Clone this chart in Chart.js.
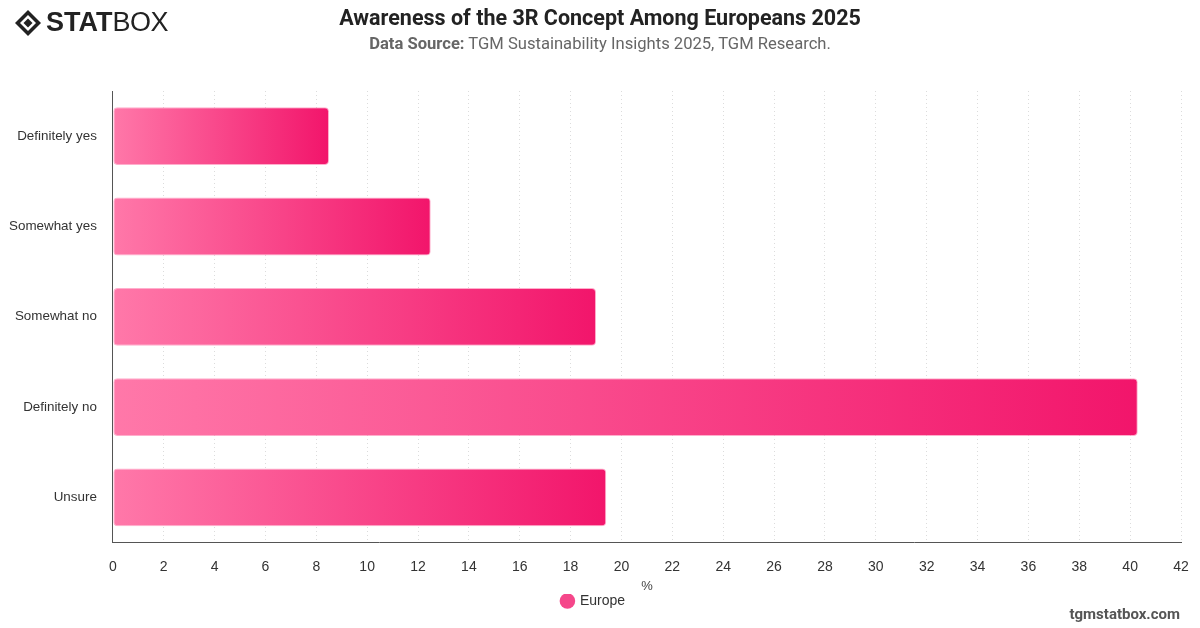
<!DOCTYPE html>
<html>
<head>
<meta charset="utf-8">
<script src="https://cdn.jsdelivr.net/npm/chart.js@4"></script>
<style>
  html, body { margin: 0; padding: 0; background: #fff; }
  body { width: 1200px; height: 628px; position: relative; overflow: hidden; font-family: "Liberation Sans", Arial, sans-serif; }
  #wrap { position: absolute; left: 0; top: 0; width: 1200px; height: 628px; }
  #title { position: absolute; top: 5px; left: 0; width: 1200px; text-align: center; font-family: Roboto, "Liberation Sans", sans-serif; font-weight: bold; font-size: 21.5px; color: #222; }
  #sub { position: absolute; top: 34px; left: 0; width: 1200px; text-align: center; font-family: Roboto, "Liberation Sans", sans-serif; font-size: 16.6px; color: #666; }
  #sub b { font-weight: bold; }
  #logo { position: absolute; left: 14px; top: 7px; display: flex; align-items: center; font-family: "Liberation Sans", Arial, sans-serif; color: #222; }
  #logo .stat { font-weight: 900; font-size: 27px; letter-spacing: 0px; }
  #logo .box { font-weight: normal; font-size: 27px; letter-spacing: -0.5px; }
  #footer { position: absolute; right: 20px; bottom: 5px; font-family: Roboto, "Liberation Sans", sans-serif; font-weight: bold; font-size: 15px; color: #555; }
</style>
</head>
<body>
<div id="wrap"><canvas id="c" width="1200" height="628"></canvas></div>
<div id="logo">
  <svg width="28" height="28" viewBox="0 0 28 28" style="margin-right:4px">
    <polygon points="14,1 27,14 14,27 1,14" fill="#222"/>
    <polygon points="14,6 22,14 14,22 6,14" fill="#fff"/>
    <polygon points="14,9.5 18.5,14 14,18.5 9.5,14" fill="#222"/>
  </svg>
  <span class="stat">STAT</span><span class="box">BOX</span>
</div>
<div id="title">Awareness of the 3R Concept Among Europeans 2025</div>
<div id="sub"><b>Data Source:</b> TGM Sustainability Insights 2025, TGM Research.</div>
<div id="footer">tgmstatbox.com</div>
<script>
const categories = ["Definitely yes", "Somewhat yes", "Somewhat no", "Definitely no", "Unsure"];
const europeValues = [8.5, 12.5, 19.0, 40.3, 19.4];
const seriesName = "Europe";
const axisTitle = "%";

function barGradient(ctx) {
  const chart = ctx.chart;
  if (!chart.chartArea || !chart.scales.x) return "#f5478a";
  const xs = chart.scales.x;
  const x0 = xs.getPixelForValue(0);
  const v = ctx.raw != null ? ctx.raw : 1;
  const x1 = xs.getPixelForValue(v);
  const g = chart.ctx.createLinearGradient(x0, 0, Math.max(x1, x0 + 1), 0);
  g.addColorStop(0, "#ff78a9");
  g.addColorStop(1, "#f2156b");
  return g;
}

new Chart(document.getElementById("c"), {
  type: "bar",
  data: {
    labels: categories,
    datasets: [{
      label: seriesName,
      data: europeValues,
      backgroundColor: barGradient,
      borderColor: "rgba(255,120,170,0.6)",
      borderWidth: 1,
      borderRadius: 4,
      borderSkipped: false,
      barPercentage: 0.8,
      categoryPercentage: 0.8
    }]
  },
  options: {
    indexAxis: "y",
    responsive: false,
    animation: false,
    layout: { padding: { top: 91, right: 6, bottom: 10, left: -7 } },
    scales: {
      x: {
        min: 0, max: 42,
        afterFit(scale) { scale.paddingRight = 19; },
        ticks: { stepSize: 2, color: "#333", font: { size: 14, family: "'Liberation Sans', Arial, sans-serif" }, padding: 16 },
        grid: { color: "#dcdcdc", drawTicks: false },
        border: { display: true, color: "#555", width: 1, dash: [1, 3] },
        title: { display: true, text: axisTitle, color: "#444", font: { size: 13 }, padding: { top: -13, bottom: 0 } }
      },
      y: {
        ticks: { color: "#333", font: { size: 13.4, family: "'Liberation Sans', Arial, sans-serif" }, padding: 16 },
        grid: { display: false, drawTicks: false },
        border: { display: true, color: "#555", width: 1 }
      }
    },
    plugins: {
      legend: {
        position: "bottom",
        labels: { usePointStyle: true, pointStyle: "circle", boxWidth: 11, boxHeight: 11, color: "#333", font: { size: 14 }, padding: 0,
          generateLabels: (chart) => [{ text: seriesName, fillStyle: "#f5478a", strokeStyle: "#f5478a", lineWidth: 0, pointStyle: "circle", datasetIndex: 0, fontColor: "#333" }]
        }
      },
      tooltip: { enabled: false }
    }
  }
});
</script>
</body>
</html>
